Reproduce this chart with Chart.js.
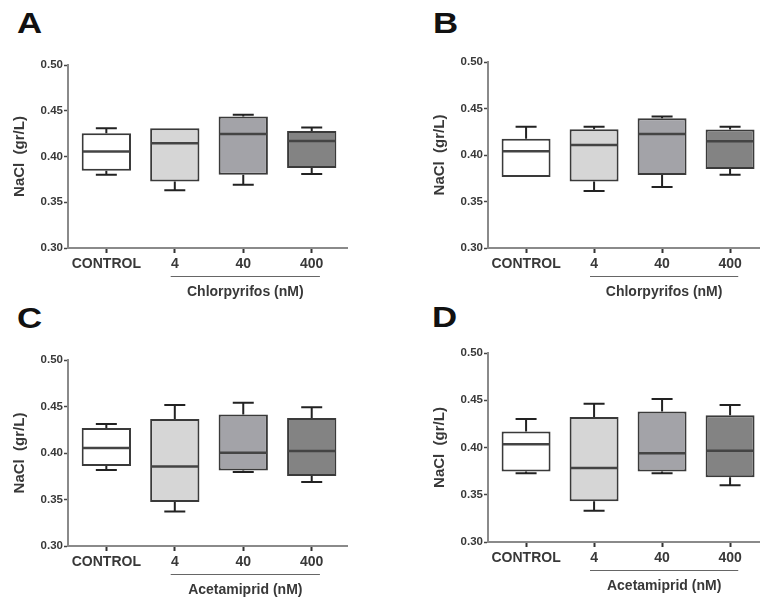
<!DOCTYPE html>
<html>
<head>
<meta charset="utf-8">
<script src="https://cdn.jsdelivr.net/npm/chart.js@4"></script>
<style>
  body { margin: 0; background: #fff; }
  #page { position: relative; width: 760px; height: 604px; overflow: hidden; background: #fff; }
  canvas { position: absolute; }
  .letter { position: absolute; font: bold 29px "Liberation Sans", Arial, sans-serif; line-height: 29px; color: #111; transform: scaleX(1.2); transform-origin: left top; }
</style>
</head>
<body>
<div id="page">
  <div class="letter" style="left:17px;top:9px">A</div>
  <div class="letter" style="left:433px;top:9px">B</div>
  <div class="letter" style="left:17px;top:304px">C</div>
  <div class="letter" style="left:432px;top:303px">D</div>
  <canvas id="chartA"></canvas>
  <canvas id="chartB"></canvas>
  <canvas id="chartC"></canvas>
  <canvas id="chartD"></canvas>
</div>
<script>
let categories = ['CONTROL', '4', '40', '400'];
let box_colors = ['#ffffff', '#d6d6d6', '#a3a3a8', '#838383'];

// panel A - chlorpyrifos
let a_min = [0.380, 0.363, 0.369, 0.381];
let a_q1  = [0.3844, 0.3727, 0.380, 0.3875];
let a_med = [0.4055, 0.4145, 0.4247, 0.417];
let a_q3  = [0.4255, 0.431, 0.4436, 0.428];
let a_max = [0.431, 0.432, 0.4455, 0.4316];

// panel B - chlorpyrifos
let b_min = [0.3763, 0.3612, 0.3655, 0.3788];
let b_q1  = [0.3763, 0.3716, 0.3785, 0.385];
let b_med = [0.404, 0.4108, 0.4226, 0.4147];
let b_q3  = [0.4176, 0.4277, 0.4395, 0.4273];
let b_max = [0.4305, 0.4305, 0.4413, 0.4305];

// panel C - acetamiprid
let c_min = [0.3817, 0.3372, 0.3795, 0.3688];
let c_q1  = [0.386, 0.3472, 0.3813, 0.3752];
let c_med = [0.4054, 0.3856, 0.4004, 0.4022];
let c_q3  = [0.427, 0.4366, 0.4413, 0.4377];
let c_max = [0.4312, 0.4517, 0.4539, 0.4492];

// panel D - acetamiprid
let d_min = [0.3727, 0.3331, 0.3727, 0.360];
let d_q1  = [0.3745, 0.343, 0.3745, 0.3685];
let d_med = [0.4035, 0.3784, 0.394, 0.3965];
let d_q3  = [0.417, 0.4322, 0.4382, 0.434];
let d_max = [0.4301, 0.4464, 0.4513, 0.445];

let y_ticks = [0.30, 0.35, 0.40, 0.45, 0.50];
let y_title = 'NaCl  (gr/L)';
let group_a = 'Chlorpyrifos (nM)';
let group_c = 'Acetamiprid (nM)';

let FONT = '"Liberation Sans", Arial, sans-serif';
let TEXT = '#383838';

// whiskers, medians and the bracket under the treated groups
let boxPlugin = {
  id: 'boxWhisker',
  afterDatasetsDraw(chart) {
    let st = chart.options.plugins.boxWhisker;
    let y = chart.scales.y;
    let meta = chart.getDatasetMeta(0);
    let ctx = chart.ctx;
    ctx.save();
    meta.data.forEach(function(bar, i) {
      let x = bar.x;
      let half = bar.width / 2;
      let yq1 = y.getPixelForValue(st.q1[i]);
      let yq3 = y.getPixelForValue(st.q3[i]);
      let ymin = y.getPixelForValue(st.min[i]);
      let ymax = y.getPixelForValue(st.max[i]);
      let ymed = y.getPixelForValue(st.med[i]);
      ctx.strokeStyle = '#222';
      ctx.lineWidth = 2;
      ctx.beginPath();
      if (ymax < yq3 - 1) {
        ctx.moveTo(x, yq3); ctx.lineTo(x, ymax);
        ctx.moveTo(x - 10.5, ymax); ctx.lineTo(x + 10.5, ymax);
      }
      if (ymin > yq1 + 1) {
        ctx.moveTo(x, yq1); ctx.lineTo(x, ymin);
        ctx.moveTo(x - 10.5, ymin); ctx.lineTo(x + 10.5, ymin);
      }
      ctx.stroke();
      ctx.strokeStyle = '#444';
      ctx.lineWidth = 2.5;
      ctx.beginPath();
      ctx.moveTo(x - half + 1, ymed);
      ctx.lineTo(x + half - 1, ymed);
      ctx.stroke();
    });
    ctx.restore();
  },
  afterDraw(chart) {
    let st = chart.options.plugins.boxWhisker;
    let xs = chart.scales.x;
    let ctx = chart.ctx;
    let bottom = chart.chartArea.bottom;
    ctx.save();
    ctx.strokeStyle = '#666';
    ctx.lineWidth = 1;
    ctx.beginPath();
    ctx.moveTo(xs.getPixelForValue(0.94), bottom + 28.5);
    ctx.lineTo(xs.getPixelForValue(3.12), bottom + 28.5);
    ctx.stroke();
    ctx.fillStyle = TEXT;
    ctx.font = 'bold 14px ' + FONT;
    ctx.textAlign = 'center';
    ctx.textBaseline = 'middle';
    ctx.fillText(st.group, xs.getPixelForValue(2.03), bottom + 44);
    ctx.restore();
  }
};

function buildBoxChart(id, pos, mins, q1s, meds, q3s, maxs, group) {
  let canvas = document.getElementById(id);
  canvas.width = pos.w;
  canvas.height = pos.h;
  canvas.style.left = pos.left + 'px';
  canvas.style.top = pos.top + 'px';

  let boxes = [];
  for (let i = 0; i < categories.length; i++) {
    boxes.push({ x: i, y: [q1s[i], q3s[i]] });
  }

  return new Chart(canvas.getContext('2d'), {
    type: 'bar',
    data: {
      labels: categories,
      datasets: [{
        data: boxes,
        backgroundColor: box_colors,
        borderColor: '#3a3a3a',
        borderWidth: 2,
        borderSkipped: false,
        barPercentage: 0.72,
        categoryPercentage: 1
      }]
    },
    plugins: [boxPlugin],
    options: {
      responsive: false,
      animation: false,
      layout: { padding: { top: 45, right: 0, left: 0, bottom: 0 } },
      plugins: {
        legend: { display: false },
        tooltip: { enabled: false },
        boxWhisker: { min: mins, q1: q1s, med: meds, q3: q3s, max: maxs, group: group }
      },
      scales: {
        x: {
          type: 'linear',
          offset: false,
          min: -0.56,
          max: pos.xmax,
          afterBuildTicks: function(s) { s.ticks = categories.map(function(c, i) { return { value: i }; }); },
          afterFit: function(s) { s.height = 60; },
          grid: { offset: false, drawOnChartArea: false, tickLength: 5, tickColor: '#333', tickWidth: 2 },
          border: { color: '#8a8a8a', width: 2 },
          ticks: {
            autoSkip: false,
            maxRotation: 0,
            padding: 3,
            color: TEXT,
            font: { family: FONT, size: 14, weight: 'bold' },
            callback: function(v) { return categories[v]; }
          }
        },
        y: {
          min: 0.30,
          max: 0.50,
          afterBuildTicks: function(s) { s.ticks = y_ticks.map(function(v) { return { value: v }; }); },
          afterFit: function(s) { s.width = 68; },
          grid: { drawOnChartArea: false, tickLength: 4, tickColor: '#444', tickWidth: 1.5 },
          border: { color: '#8a8a8a', width: 2 },
          ticks: {
            padding: 1,
            color: TEXT,
            font: { family: FONT, size: 11.5, weight: 'bold' },
            callback: function(v) { return v.toFixed(2); }
          },
          title: {
            display: true,
            text: y_title,
            color: TEXT,
            font: { family: FONT, size: 15, weight: 'bold' },
            padding: { top: 11, bottom: 0 }
          }
        }
      }
    }
  });
}

buildBoxChart('chartA', { left: 0, top: 20, w: 348, h: 288, xmax: 3.53 }, a_min, a_q1, a_med, a_q3, a_max, group_a);
buildBoxChart('chartB', { left: 420, top: 17, w: 340, h: 291, xmax: 3.44 }, b_min, b_q1, b_med, b_q3, b_max, group_a);
buildBoxChart('chartC', { left: 0, top: 315, w: 348, h: 291, xmax: 3.53 }, c_min, c_q1, c_med, c_q3, c_max, group_c);
buildBoxChart('chartD', { left: 420, top: 308, w: 340, h: 294, xmax: 3.44 }, d_min, d_q1, d_med, d_q3, d_max, group_c);
</script>
</body>
</html>
